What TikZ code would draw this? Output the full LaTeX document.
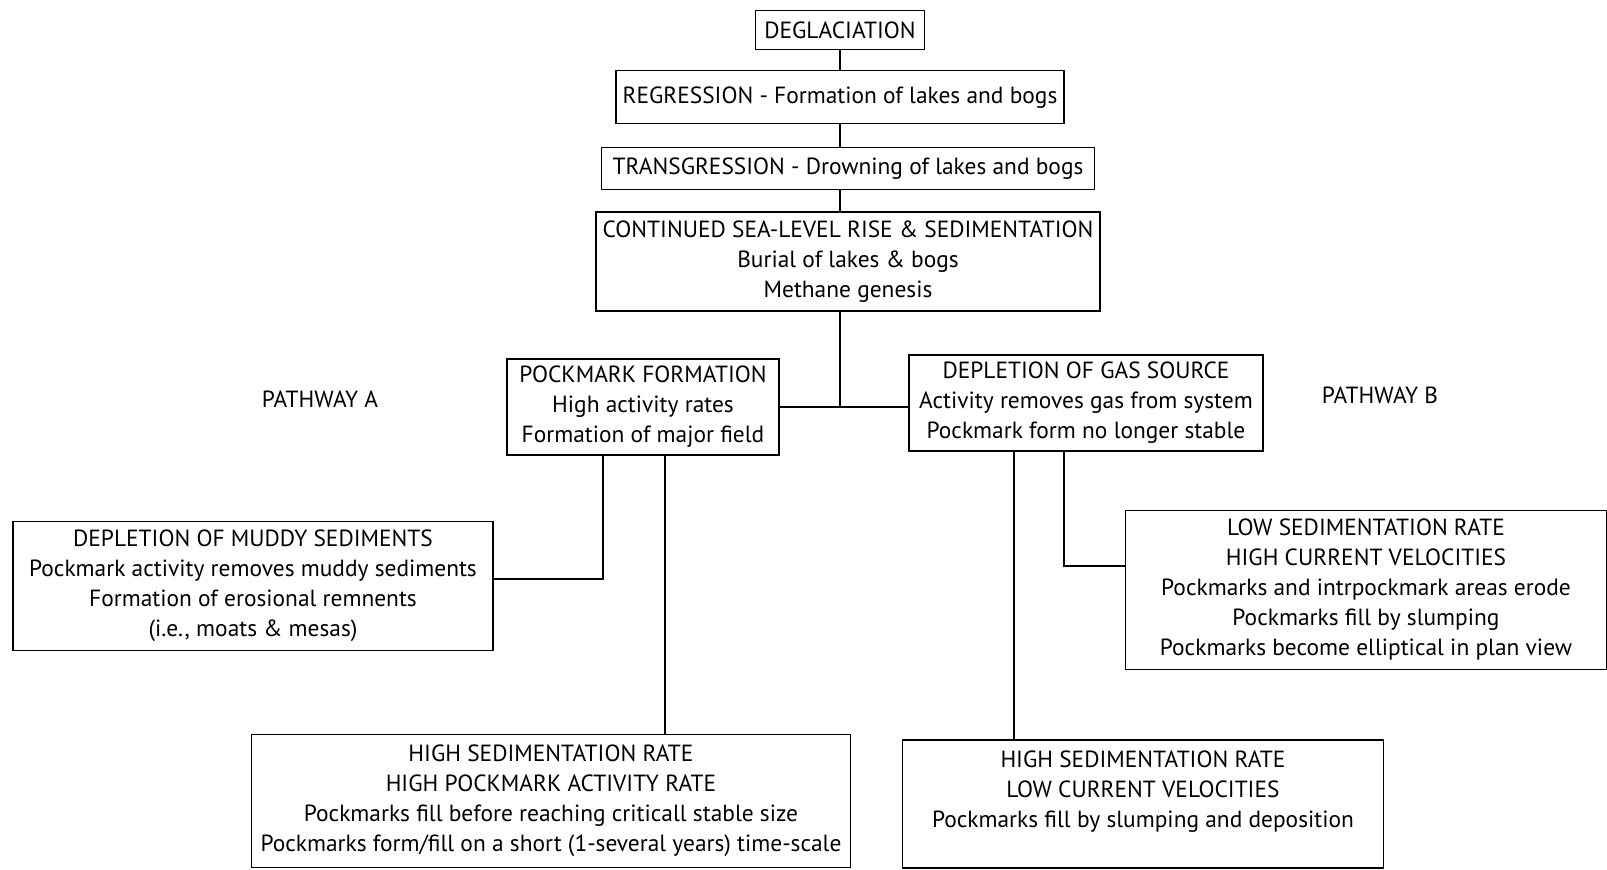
\documentclass[tikz,border=0pt]{standalone}
\usepackage{fontspec}
\setmainfont{PT Sans}
\usepackage{tikz}
\usetikzlibrary{positioning}

\begin{document}
\begin{tikzpicture}[
            x=0.5pt, y=-0.5pt,
            stage/.style={draw=black, line width=0.6pt, rectangle, align=center, inner sep=0pt,
                font=\fontsize{11.7}{15}\selectfont},
            link/.style={line width=0.6pt},
            tag/.style={font=\fontsize{11.7}{15}\selectfont}
        ]
        \useasboundingbox (0,0) rectangle (1607,870);

        % Hauptstrang
        \node[stage, minimum width=84.5pt, minimum height=19.5pt] (deg) at (840,30) {DEGLACIATION};
        \node[stage, minimum width=224pt, minimum height=26.5pt, below=10pt of deg] (reg)
            {REGRESSION - Formation of lakes and bogs};
        \node[stage, minimum width=246.5pt, minimum height=21pt, below=11.5pt of reg, xshift=4pt] (trans)
            {TRANSGRESSION - Drowning of lakes and bogs};
        \node[stage, minimum width=252pt, minimum height=49.5pt, below=10.5pt of trans] (cont)
            {CONTINUED SEA-LEVEL RISE \& SEDIMENTATION\\ Burial of lakes \& bogs\\ Methane genesis};

        % Verzweigung
        \coordinate (fork) at (840,407);
        \node[stage, minimum width=136pt, minimum height=48pt] (pf) at (643,407)
            {POCKMARK FORMATION\\ High activity rates\\ Formation of major field};
        \node[stage, minimum width=177pt, minimum height=48pt] (dgs) at (1086,403)
            {DEPLETION OF GAS SOURCE\\ Activity removes gas from system\\ Pockmark form no longer stable};
        \node[tag] (pa) at (320,399) {PATHWAY A};
        \node[tag] (pb) at (1380,395) {PATHWAY B};

        % Pfad A
        \node[stage, minimum width=240pt, minimum height=64.5pt] (dms) at (253,586)
            {DEPLETION OF MUDDY SEDIMENTS\\ Pockmark activity removes muddy sediments\\
             Formation of erosional remnents\\ (i.e., moats \& mesas)};
        \node[stage, minimum width=299.5pt, minimum height=66.5pt] (hsra) at (551,801)
            {HIGH SEDIMENTATION RATE\\ HIGH POCKMARK ACTIVITY RATE\\
             Pockmarks fill before reaching criticall stable size\\
             Pockmarks form/fill on a short (1-several years) time-scale};

        % Pfad B
        \node[stage, minimum width=240.5pt, minimum height=79.5pt] (lsr) at (1366,590)
            {LOW SEDIMENTATION RATE\\ HIGH CURRENT VELOCITIES\\
             Pockmarks and intrpockmark areas erode\\ Pockmarks fill by slumping\\
             Pockmarks become elliptical in plan view};
        \node[stage, minimum width=240.5pt, minimum height=64pt] (hsrb) at (1143,804)
            {HIGH SEDIMENTATION RATE\\ LOW CURRENT VELOCITIES\\
             Pockmarks fill by slumping and deposition\\ \mbox{}};

        % Kanten
        \draw[link] (deg.south) -- (deg.south |- reg.north);
        \draw[link] (reg.south) -- (reg.south |- trans.north);
        \draw[link] (reg.south |- trans.south) -- (reg.south |- cont.north);
        \draw[link] (reg.south |- cont.south) -- (fork);
        \draw[link] (pf.east) -- (pf.east -| dgs.west);
        \draw[link] ([xshift=-20pt]pf.south) |- ([yshift=3.5pt]dms.east);
        \draw[link] ([xshift=11pt]pf.south) -- ([xshift=11pt]pf.south |- hsra.north);
        \draw[link] ([xshift=-11pt]dgs.south) |- ([yshift=12pt]lsr.west);
        \draw[link] ([xshift=-36pt]dgs.south) -- ([xshift=-36pt]dgs.south |- hsrb.north);

    \end{tikzpicture}
\end{document}
